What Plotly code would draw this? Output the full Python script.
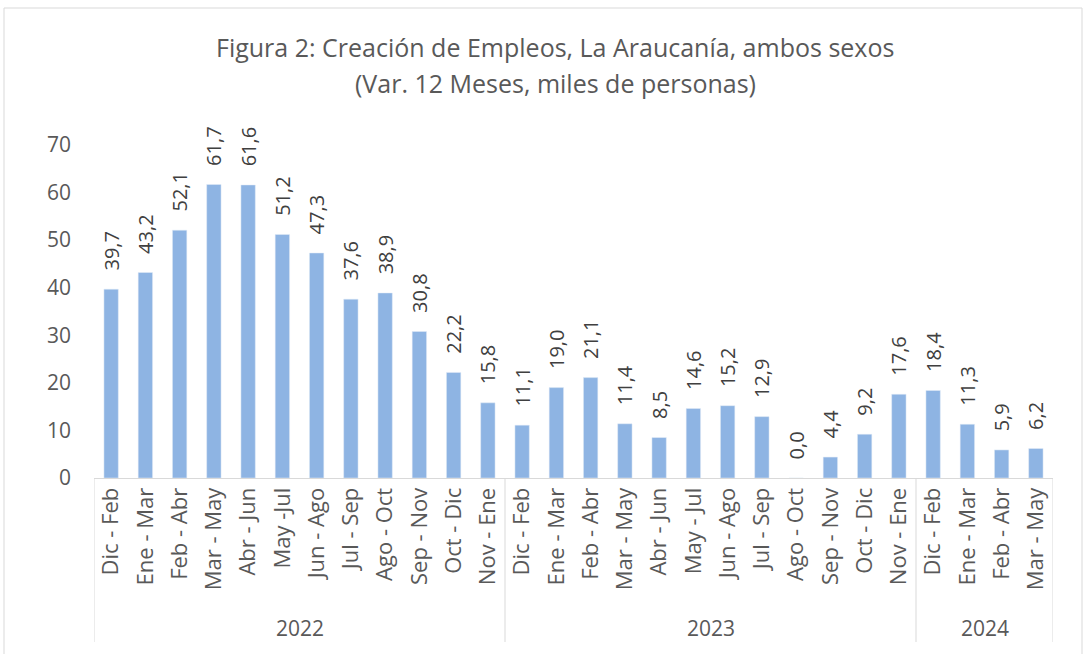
import plotly.graph_objects as go

years = ["2022", "2023", "2024"]
periods_2022 = ["Dic - Feb", "Ene - Mar", "Feb - Abr", "Mar - May", "Abr - Jun", "May -Jul",
                "Jun - Ago", "Jul - Sep", "Ago - Oct", "Sep - Nov", "Oct - Dic", "Nov - Ene"]
periods_2023 = ["Dic - Feb", "Ene - Mar", "Feb - Abr", "Mar - May", "Abr - Jun", "May - Jul",
                "Jun - Ago", "Jul - Sep", "Ago - Oct", "Sep - Nov", "Oct - Dic", "Nov - Ene"]
periods_2024 = ["Dic - Feb", "Ene - Mar", "Feb - Abr", "Mar - May"]
values_2022 = [39.7, 43.2, 52.1, 61.7, 61.6, 51.2, 47.3, 37.6, 38.9, 30.8, 22.2, 15.8]
values_2023 = [11.1, 19.0, 21.1, 11.4, 8.5, 14.6, 15.2, 12.9, 0.0, 4.4, 9.2, 17.6]
values_2024 = [18.4, 11.3, 5.9, 6.2]

labels = periods_2022 + periods_2023 + periods_2024
values = values_2022 + values_2023 + values_2024
groups = [periods_2022, periods_2023, periods_2024]
xs = list(range(len(values)))
texts = ["\u00a0\u00a0\u00a0" + f"{v:.1f}".replace(".", ",") for v in values]

FONT = "Open Sans, sans-serif"
GRAY = "#595959"

fig = go.Figure(go.Bar(
    x=xs, y=values, text=texts, textposition="outside", textangle=-90,
    constraintext="none",
    textfont=dict(family=FONT, size=20, color="#404040"),
    marker=dict(color="#8EB4E3"), cliponaxis=False, width=0.42,
))

W, H = 1087, 654
L, R, T, B = 94, 34, 145, 176
ph = H - T - B
pw = W - L - R

shapes = []
start = -0.5
seps = [start]
for g in groups:
    start += len(g)
    seps.append(start)
for s in seps:
    shapes.append(dict(type="line", xref="x", yref="paper", x0=s, x1=s, y0=0,
                       y1=-(642 - 478) / ph, line=dict(color="#D9D9D9", width=1)))
shapes.append(dict(type="rect", xref="paper", yref="paper",
                   x0=(4 - L) / pw, x1=(1082 - L) / pw,
                   y0=(478 - 700) / ph, y1=(478 - 8) / ph,
                   line=dict(color="#D9D9D9", width=1), fillcolor="rgba(0,0,0,0)", layer="below"))

annotations = []
for i, (yr, g) in enumerate(zip(years, groups)):
    center = (seps[i] + seps[i + 1]) / 2
    annotations.append(dict(x=center, xref="x", y=-(628 - 478) / ph, yref="paper",
                            text=yr, showarrow=False, yanchor="middle",
                            font=dict(family=FONT, size=21, color=GRAY)))
annotations.append(dict(x=(555 - L) / pw, xref="paper", y=(478 - 47) / ph, yref="paper",
                        text="Figura 2: Creación de Empleos, La Araucanía, ambos sexos",
                        showarrow=False, yanchor="middle",
                        font=dict(family=FONT, size=25, color=GRAY)))
annotations.append(dict(x=(555 - L) / pw, xref="paper", y=(478 - 83) / ph, yref="paper",
                        text="(Var. 12 Meses, miles de personas)",
                        showarrow=False, yanchor="middle",
                        font=dict(family=FONT, size=25, color=GRAY)))

fig.update_layout(
    width=W, height=H,
    margin=dict(l=L, r=R, t=T, b=B),
    paper_bgcolor="white", plot_bgcolor="white",
    showlegend=False,
    xaxis=dict(tickmode="array", tickvals=xs, ticktext=labels, tickangle=-90,
               range=[-0.5, len(values) - 0.5], showgrid=False, zeroline=False,
               showline=True, linecolor="#D9D9D9", ticks="",
               tickfont=dict(family=FONT, size=22, color=GRAY)),
    yaxis=dict(range=[0, 70], dtick=10, showgrid=False, zeroline=False, showline=False,
               tickfont=dict(family=FONT, size=21, color=GRAY), ticks="", ticklen=0,
               ticklabelstandoff=22),
    shapes=shapes, annotations=annotations,
)

fig.write_html("out.html", config={"displayModeBar": False},
               post_script="document.body.style.margin='0';")
